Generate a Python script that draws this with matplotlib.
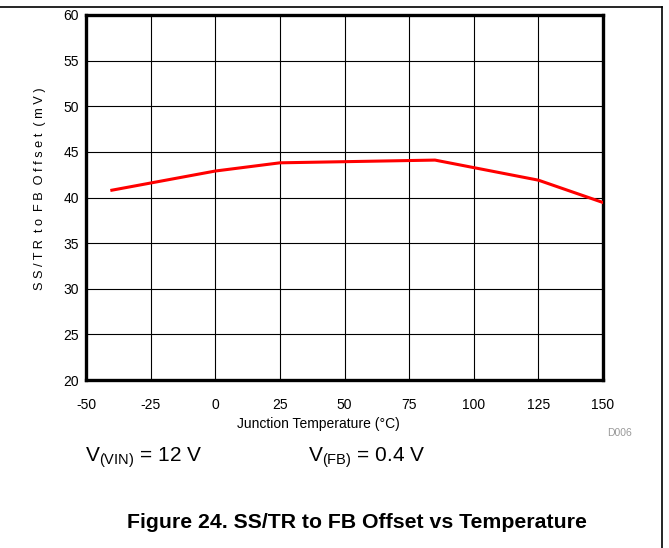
import matplotlib.pyplot as plt
from matplotlib.lines import Line2D

plt.rcParams['font.family'] = ['Liberation Sans', 'DejaVu Sans']
plt.rcParams['mathtext.fontset'] = 'custom'
plt.rcParams['mathtext.rm'] = 'Liberation Sans'
plt.rcParams['axes.unicode_minus'] = False

temp = [-40, 0, 25, 85, 125, 150]
offset = [40.8, 42.9, 43.8, 44.1, 41.9, 39.45]

x_ticks = [-50, -25, 0, 25, 50, 75, 100, 125, 150]
y_ticks = [20, 25, 30, 35, 40, 45, 50, 55, 60]

W, H = 669, 548
fig = plt.figure(figsize=(W / 100, H / 100), dpi=100)
ax = fig.add_axes([86 / W, 1 - 380 / H, (603 - 86) / W, (380 - 15) / H])

ax.plot(temp, offset, color='#ff0000', linewidth=2.2, zorder=3)
ax.set_xlim(-50, 150)
ax.set_ylim(20, 60)
ax.set_xticks(x_ticks)
ax.set_yticks(y_ticks)
ax.tick_params(length=0, labelsize=10)
ax.tick_params(axis='x', pad=13)
ax.tick_params(axis='y', pad=5)
ax.grid(True, color='black', linewidth=0.8)
for s in ax.spines.values():
    s.set_linewidth(2.4)

ax.set_ylabel('S S / T R  t o  F B  O f f s e t  ( m V )', fontsize=9.2)
ax.yaxis.set_label_coords(-0.078, 0.525)

# outer frame lines (top and right)
fig.add_artist(Line2D([0, 662 / W], [1 - 7 / H, 1 - 7 / H], color='black', linewidth=1.2))
fig.add_artist(Line2D([662 / W, 662 / W], [1 - 7 / H, 0], color='black', linewidth=1.2))

fig.text(318 / W, 1 - 424 / H, 'Junction Temperature (°C)', fontsize=10, ha='center', va='center')
fig.text(607 / W, 1 - 433 / H, 'D006', fontsize=7.5, color='#999999', va='center')
fig.text(85 / W, 1 - 458 / H, r'V$_{\mathrm{(VIN)}}$ = 12 V', fontsize=15, va='center')
fig.text(308 / W, 1 - 458 / H, r'V$_{\mathrm{(FB)}}$ = 0.4 V', fontsize=15, va='center')
fig.text(357 / W, 1 - 522 / H, 'Figure 24. SS/TR to FB Offset vs Temperature',
         fontsize=15.3, fontweight='bold', ha='center', va='center')

fig.savefig('out.png', dpi=100)
